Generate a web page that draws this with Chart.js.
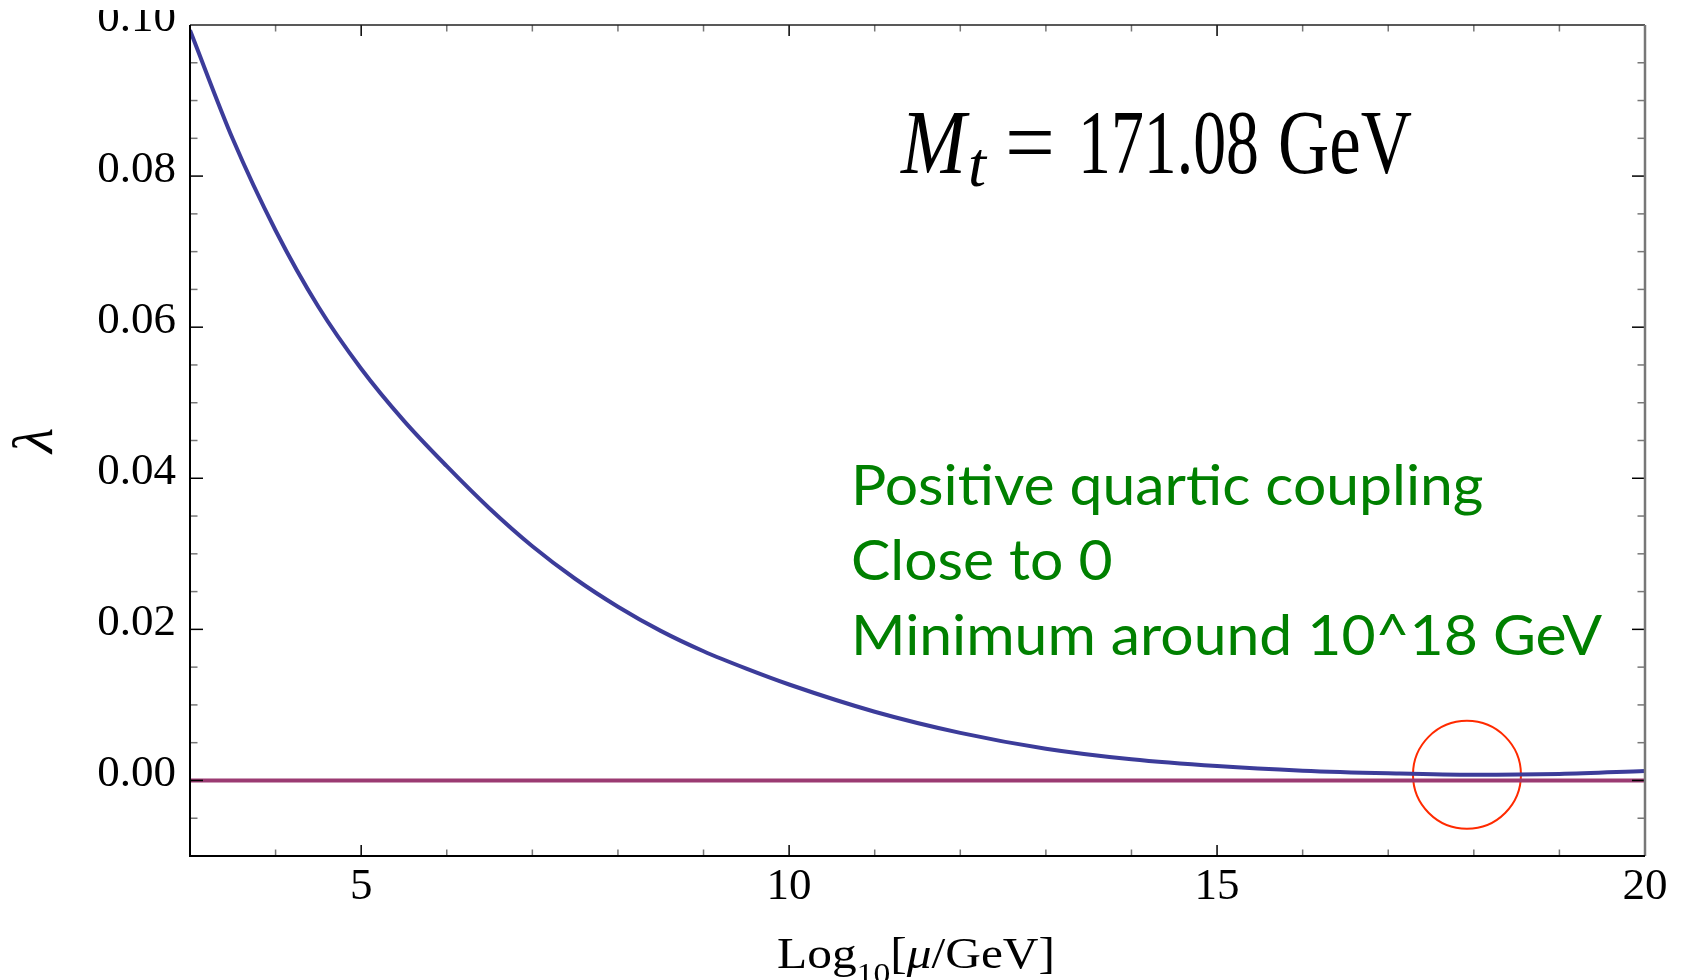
<!DOCTYPE html>
<html>
<head>
<meta charset="utf-8">
<script src="https://cdn.jsdelivr.net/npm/chart.js@4"></script>
<style>
  html, body { margin: 0; padding: 0; background: #fff; }
</style>
</head>
<body>
<canvas id="lambdaChart" width="1683" height="980"></canvas>
<script>
// lambda(mu) (x = log10 of mu in GeV)
const logMu = [3, 3.5, 4, 4.5, 5, 5.5, 6, 6.5, 7, 7.5, 8, 8.5, 9, 9.5, 10, 11, 12, 13, 14, 15, 16, 17, 18, 19, 20];
const lambda = [0.0993, 0.0849, 0.0728, 0.0627, 0.0545, 0.0476, 0.0416, 0.0360, 0.0310, 0.0267, 0.0230, 0.0198, 0.0171, 0.0148, 0.0127, 0.0091, 0.0063, 0.0042, 0.0028, 0.0019, 0.0013, 0.00095, 0.00075, 0.00086, 0.00124];
const zeroX = [3, 20];
const zeroY = [0, 0];
const circleX = [17.92];
const circleY = [0.00075];

const xTickLabels = [5, 10, 15, 20];
const yTickLabels = [0, 0.02, 0.04, 0.06, 0.08, 0.10];
const notes = ['Positive quartic coupling', 'Close to 0', 'Minimum around 10^18 GeV'];

const serif = '"Liberation Serif", "DejaVu Serif", serif';

const toPoints = (xs, ys) => xs.map((x, i) => ({ x: x, y: ys[i] }));

// inward ticks on all four sides, frame, tick labels
const frameAndTicks = {
  id: 'frameAndTicks',
  afterDatasetsDraw(chart) {
    const { ctx, chartArea: a, scales: { x, y } } = chart;
    const seg = (x1, y1, x2, y2, color, w) => {
      ctx.beginPath();
      ctx.strokeStyle = color;
      ctx.lineWidth = w;
      ctx.moveTo(x1, y1);
      ctx.lineTo(x2, y2);
      ctx.stroke();
    };
    ctx.save();
    for (let v = 4; v < 20; v++) {
      const major = v % 5 === 0;
      const px = x.getPixelForValue(v);
      const len = major ? 11 : 6.5;
      const col = major ? '#000' : '#777';
      seg(px, a.bottom, px, a.bottom - len, col, 1.5);
      seg(px, a.top, px, a.top + len, col, 1.5);
    }
    for (let k = -1; k < 20; k++) {
      const major = k % 4 === 0;
      const py = y.getPixelForValue(k * 0.005);
      const len = major ? 13 : 7.5;
      const col = major ? '#000' : '#777';
      seg(a.left, py, a.left + len, py, col, 1.5);
      seg(a.right, py, a.right - len, py, col, 1.5);
    }
    seg(a.left, a.top, a.right, a.top, '#222', 1.5);
    seg(a.right, a.top, a.right, a.bottom, '#777', 2.5);
    seg(a.left, a.top, a.left, a.bottom + 1, '#000', 2);
    seg(a.left, a.bottom, a.right, a.bottom, '#000', 2);

    // the original is cropped just above the top label
    ctx.beginPath();
    ctx.rect(0, 10, chart.width, chart.height);
    ctx.clip();
    ctx.fillStyle = '#000';
    ctx.font = '45px ' + serif;
    ctx.textBaseline = 'middle';
    ctx.textAlign = 'right';
    yTickLabels.forEach(v => ctx.fillText(v.toFixed(2), a.left - 14, y.getPixelForValue(v) - 6));
    ctx.textAlign = 'center';
    xTickLabels.forEach(v => ctx.fillText(String(v), x.getPixelForValue(v), a.bottom + 31));
    ctx.restore();
  }
};

// text pieces: stretch each to the width it has in the picture
function fitText(ctx, str, font, left, right, base, sy) {
  ctx.save();
  ctx.font = font;
  const w = ctx.measureText(str).width;
  ctx.translate(left, base);
  ctx.scale((right - left) / w, sy);
  ctx.fillText(str, 0, 0);
  ctx.restore();
}

const annotations = {
  id: 'annotations',
  afterDraw(chart) {
    const ctx = chart.ctx;
    ctx.save();
    ctx.textBaseline = 'alphabetic';
    ctx.textAlign = 'left';
    ctx.fillStyle = '#000';

    // M_t = 171.08 GeV
    fitText(ctx, 'M', 'italic 80px ' + serif, 901, 966, 173, 1.15);
    fitText(ctx, 't', 'italic 56px ' + serif, 968, 986, 186, 1.15);
    fitText(ctx, '=', '80px ' + serif, 1005, 1055, 173, 1.15);
    fitText(ctx, '171.08', '80px ' + serif, 1078, 1259, 173, 1.15);
    fitText(ctx, 'GeV', '80px ' + serif, 1278, 1412, 173, 1.15);

    // Log_10[mu/GeV]
    const parts = [
      { s: 'Log', f: '44px ' + serif, dy: 0 },
      { s: '10', f: '30px ' + serif, dy: 15 },
      { s: '[', f: '44px ' + serif, dy: 0 },
      { s: 'μ', f: 'italic 44px ' + serif, dy: 0 },
      { s: '/GeV]', f: '44px ' + serif, dy: 0 }
    ];
    let total = 0;
    parts.forEach(p => { ctx.font = p.f; p.w = ctx.measureText(p.s).width; total += p.w; });
    ctx.save();
    ctx.translate(777, 968);
    ctx.scale((1055 - 777) / total, 1);
    let cx = 0;
    parts.forEach(p => { ctx.font = p.f; ctx.fillText(p.s, cx, p.dy); cx += p.w; });
    ctx.restore();

    // green notes
    ctx.fillStyle = '#008000';
    ctx.font = '56px Lato, "Open Sans", sans-serif';
    const sx = 751 / ctx.measureText(notes[2]).width;
    notes.forEach((line, i) => {
      ctx.save();
      ctx.translate(851, 505 + i * 75);
      ctx.scale(sx, 1);
      ctx.fillText(line, 0, 0);
      ctx.restore();
    });
    ctx.restore();
  }
};

new Chart(document.getElementById('lambdaChart'), {
  type: 'line',
  data: {
    datasets: [
      {
        label: 'lambda',
        data: toPoints(logMu, lambda),
        borderColor: '#3c3c9a',
        borderWidth: 4,
        pointRadius: 0,
        cubicInterpolationMode: 'monotone',
        fill: false
      },
      {
        label: 'zero',
        data: toPoints(zeroX, zeroY),
        borderColor: '#9b3b72',
        borderWidth: 4,
        pointRadius: 0,
        fill: false
      },
      {
        label: 'minimum',
        data: toPoints(circleX, circleY),
        showLine: false,
        pointRadius: 54,
        pointHoverRadius: 54,
        pointBorderWidth: 2,
        pointBorderColor: '#ff2a00',
        pointBackgroundColor: 'rgba(0,0,0,0)'
      }
    ]
  },
  options: {
    responsive: false,
    animation: false,
    layout: { autoPadding: false, padding: { top: 25, right: 38, left: 0, bottom: 0 } },
    plugins: { legend: { display: false }, tooltip: { enabled: false } },
    scales: {
      x: {
        type: 'linear',
        min: 3,
        max: 20,
        afterFit: s => { s.height = 124; },
        grid: { display: false, drawTicks: false },
        border: { display: false },
        ticks: { display: false }
      },
      y: {
        min: -0.01,
        max: 0.10,
        afterFit: s => { s.width = 190; },
        grid: { display: false, drawTicks: false },
        border: { display: false },
        title: {
          display: true,
          text: 'λ',
          color: '#000',
          padding: { top: 2, bottom: 0 },
          font: { family: serif, style: 'italic', size: 58 }
        },
        ticks: { display: false }
      }
    }
  },
  plugins: [frameAndTicks, annotations]
});
</script>
</body>
</html>
